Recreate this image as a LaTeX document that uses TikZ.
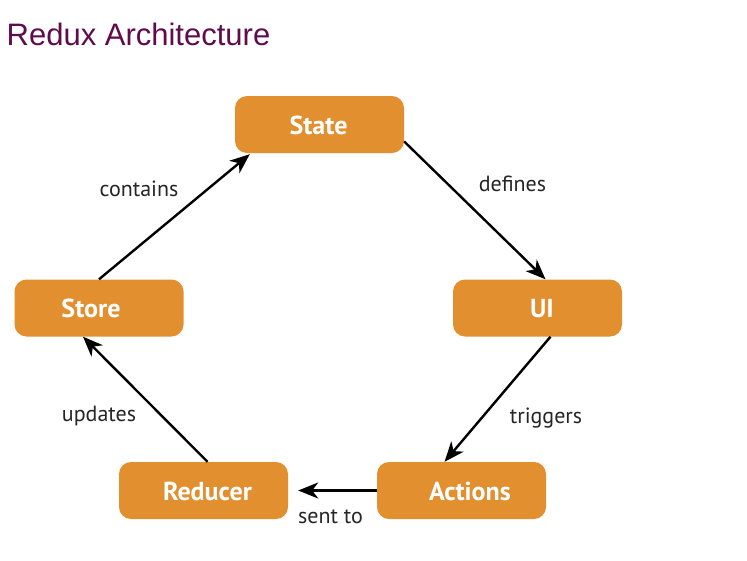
\documentclass[tikz,border=0pt]{standalone}
\usepackage{fontspec}
\setmainfont{PT Sans}
\newfontfamily\titlefont{Liberation Sans}
\usetikzlibrary{arrows.meta}
\definecolor{boxorange}{HTML}{E28F2F}
\definecolor{titlecol}{HTML}{610B4B}
\tikzset{
  stagebox/.style={draw=none, fill=boxorange, rounded corners=12pt, minimum width=169pt, minimum height=57pt,
    inner sep=0pt},
  boxtext/.style={inner sep=0pt, text=white, font=\fontsize{26pt}{26pt}\selectfont\bfseries, text height=18pt, text depth=0pt},
  flow/.style={line width=2.4pt, -{Stealth[length=20pt,width=16pt,inset=6pt]}},
  lbl/.style={inner sep=0pt, anchor=base, font=\fontsize{22pt}{22pt}\selectfont, text=black!85}
}
\begin{document}
\begin{tikzpicture}[x=1pt,y=-1pt]
\useasboundingbox[fill=white] (0,0) rectangle (747,560);
\node[inner sep=0pt, anchor=base west, text=titlecol, font=\titlefont\fontsize{31pt}{31pt}\selectfont] (title) at (6.5,45) {Redux Architecture};
\node[stagebox] (state) at (319.5,124.5) {};
\node[stagebox] (ui) at (537.5,308) {};
\node[stagebox] (store) at (99,308) {};
\node[stagebox] (actions) at (461.5,490.5) {};
\node[stagebox] (reducer) at (203.5,490.5) {};
\node[boxtext] (tstate) at ([xshift=-1pt,yshift=-0.5pt]state.center) {State};
\node[boxtext] (tui) at ([xshift=4.5pt]ui.center) {UI};
\node[boxtext] (tstore) at ([xshift=-8pt]store.center) {Store};
\node[boxtext] (tactions) at ([xshift=8.5pt,yshift=-1pt]actions.center) {Actions};
\node[boxtext] (treducer) at ([xshift=4pt,yshift=-1pt]reducer.center) {Reducer};
\draw[flow] (store.north) -- ([xshift=15pt,yshift=-1pt]state.south west);
\draw[flow] ([yshift=-17pt]state.east) -- ([xshift=8pt]ui.north);
\draw[flow] ([xshift=13pt]ui.south) -- ([xshift=-17pt]actions.north);
\draw[flow] (actions.west) -- ([xshift=10pt]reducer.east);
\draw[flow] ([xshift=4pt]reducer.north) -- ([xshift=-16pt]store.south);
\node[lbl] (lcontains) at (139,196) {contains};
\node[lbl] (ldefines) at (512.5,191) {defines};
\node[lbl] (ltriggers) at (546,423) {triggers};
\node[lbl] (lupdates) at (99,421) {updates};
\node[lbl] (lsent) at (330.5,523) {sent to};
\end{tikzpicture}
\end{document}
